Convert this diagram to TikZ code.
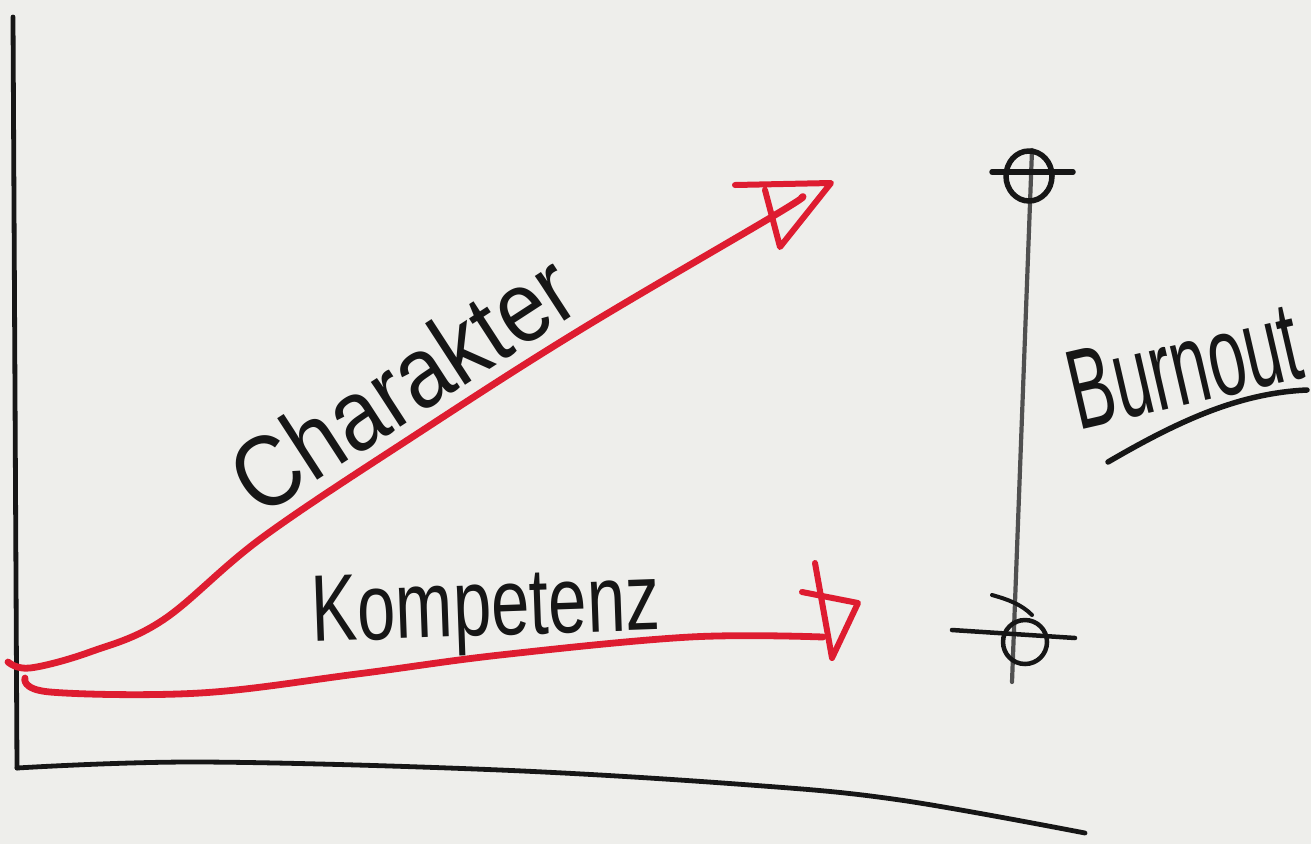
\documentclass[tikz,border=0pt]{standalone}
\usepackage{fontspec}
\setmainfont{Liberation Sans}
\usetikzlibrary{shapes.geometric}
\begin{document}
\begin{tikzpicture}[x=1pt,y=-1pt,line join=round,line cap=round]
\definecolor{paper}{RGB}{238,238,235}
\definecolor{redink}{RGB}{222,28,48}
\definecolor{blackink}{RGB}{22,22,22}
\definecolor{greyink}{RGB}{80,80,80}
\tikzset{
  axisline/.style={draw=blackink,line width=4.8pt},
  redcurve/.style={draw=redink,line width=6.8pt},
  redhead/.style={draw=redink,line width=6pt},
  scaleline/.style={draw=greyink,line width=4.2pt},
  marker/.style={draw=blackink,line width=5.5pt},
  hand/.style={text=blackink,inner sep=0pt,font=\fontsize{#1}{#1}\selectfont},
}
\fill[paper] (0,0) rectangle (1311,844);
\useasboundingbox (0,0) rectangle (1311,844);

% axes
\coordinate (ytop) at (13,17);
\coordinate (origin) at (17,768);
\coordinate (xend) at (1085,833);
\draw[axisline] (ytop) -- (origin);
\draw[axisline] plot[smooth,tension=0.6] coordinates {(17,768) (200,762) (500,770) (750,785) (900,800) (1085,833)};

% Charakter curve
\coordinate (cstart) at (8,662);
\coordinate (ctip) at (802,197);
\draw[redcurve] plot[smooth,tension=0.6] coordinates {(8,662) (30,668) (90,652) (163,620) (263,537) (420,432) (580,330) (775,215) (802,197)};
\draw[redhead] (735,185) -- (831,183) -- (780,247) -- (765,190);

% Kompetenz curve
\coordinate (kstart) at (25,678);
\coordinate (ktip) at (823,637);
\draw[redcurve] plot[smooth,tension=0.6] coordinates {(25,678) (50,692) (200,693) (357,674) (500,655) (690,637) (823,637)};
\draw[redhead] (815,563) -- (832,658) -- (858,603) -- (802,592);

% labels
\node[hand=88,rotate=33,xscale=1.0,yscale=1.15] (charlbl) at (402,383) {Charakter};
\node[hand=86,rotate=2,xscale=0.8,yscale=1.1] (komplbl) at (486,613) {Kompetenz};

% Burnout scale
\coordinate (stop) at (1032,150);
\coordinate (sbot) at (1012,682);
\draw[scaleline] (stop) -- (sbot);
\node[marker,ellipse,minimum width=46pt,minimum height=50pt,inner sep=0pt] (topmark) at (1029,176) {};
\draw[marker] (992,172) -- (1073,172);
\node[marker,circle,minimum size=44pt,inner sep=0pt,line width=4.5pt] (botmark) at (1025,642) {};
\draw[marker,line width=4.5pt] (952,630) -- (1075,638);
\draw[marker,line width=4pt] (992,595) .. controls (1010,600) and (1022,605) .. (1032,615);

\node[hand=76,rotate=13,xscale=0.88,yscale=1.5] (burnlbl) at (1184,366) {Burnout};
\draw[axisline,line width=5.5pt] (1108,462) .. controls (1180,420) and (1240,393) .. (1307,390);
\end{tikzpicture}
\end{document}
